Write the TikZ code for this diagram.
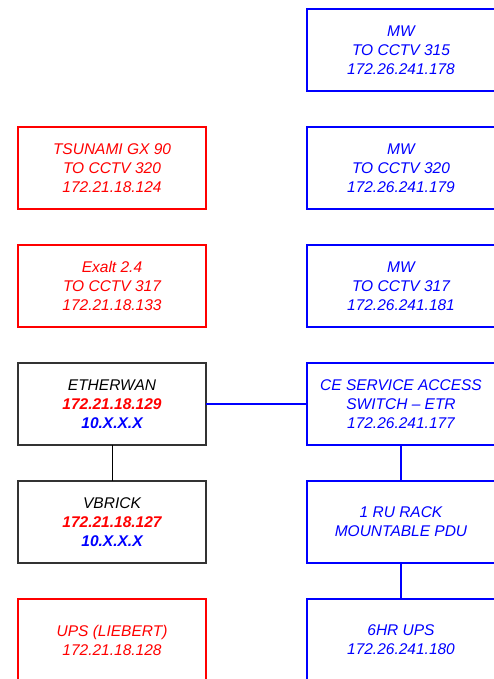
\documentclass[tikz,border=0pt]{standalone}
\usepackage{fontspec}
\setmainfont{Liberation Sans}
\usetikzlibrary{positioning}
\definecolor{netred}{HTML}{FF0000}
\definecolor{netblue}{HTML}{0000FF}
\definecolor{netgray}{HTML}{333333}

\begin{document}
\begin{tikzpicture}[
    node distance=36pt and 101pt,
    devbox/.style={rectangle, draw=#1, line width=2pt, minimum width=188pt, minimum height=82pt, outer sep=0pt, align=center, text=#1, font=\fontsize{15.5}{19}\selectfont\itshape},
    plainbox/.style={rectangle, draw=netgray, line width=1.2pt, minimum width=188pt, minimum height=82pt, outer sep=0pt, align=center, text=black, font=\fontsize{15.5}{19}\selectfont\itshape},
    link/.style={line width=2pt, color=netblue},
    thinlink/.style={line width=1pt, color=black},
]

\useasboundingbox (0,0) rectangle (494pt,-679pt);
\clip (0,0) rectangle (494pt,-679pt);

% ─── Right column: site equipment ───
\node[devbox=netblue] at (401pt,-50pt) (mw315) {MW\\TO CCTV 315\\172.26.241.178};
\node[devbox=netblue, below=of mw315] (mw320) {MW\\TO CCTV 320\\172.26.241.179};
\node[devbox=netblue, below=of mw320] (mw317) {MW\\TO CCTV 317\\172.26.241.181};
\node[devbox=netblue, below=of mw317] (ceswitch) {CE SERVICE ACCESS\\SWITCH -- ETR\\172.26.241.177};
\node[devbox=netblue, below=of ceswitch] (pdu) {1 RU RACK\\MOUNTABLE PDU};
\node[devbox=netblue, below=of pdu] (upssite) {6HR UPS\\172.26.241.180};

% ─── Left column: existing equipment ───
\node[devbox=netred, left=of mw320] (tsunami) {TSUNAMI GX 90\\TO CCTV 320\\172.21.18.124};
\node[devbox=netred, left=of mw317] (exalt) {Exalt 2.4\\TO CCTV 317\\172.21.18.133};
\node[plainbox, left=of ceswitch] (etherwan) {ETHERWAN\\\textcolor{netred}{\bfseries 172.21.18.129}\\\textcolor{netblue}{\bfseries 10.X.X.X}};
\node[plainbox, left=of pdu] (vbrick) {VBRICK\\\textcolor{netred}{\bfseries 172.21.18.127}\\\textcolor{netblue}{\bfseries 10.X.X.X}};
\node[devbox=netred, left=of upssite] (liebert) {UPS (LIEBERT)\\172.21.18.128};

% ─── Links ───
\draw[link] (etherwan) -- (ceswitch);
\draw[link] (ceswitch) -- (pdu);
\draw[link] (pdu) -- (upssite);
\draw[thinlink] (etherwan) -- (vbrick);

\end{tikzpicture}
\end{document}
